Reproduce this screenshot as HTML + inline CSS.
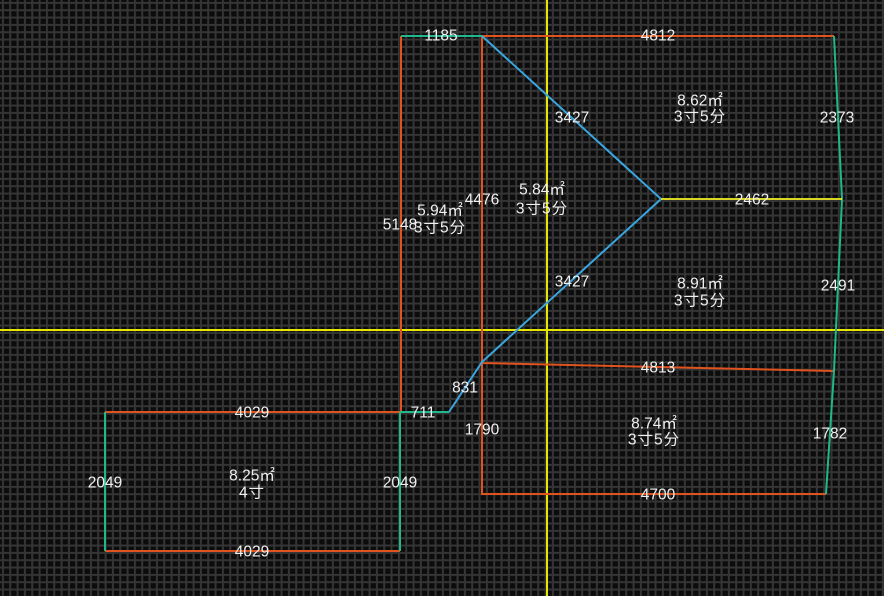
<!DOCTYPE html>
<html><head><style>body{margin:0;background:#0c0c0c}svg{display:block}text{font-family:"Liberation Sans","Noto Sans CJK SC",sans-serif;font-size:15.5px;fill:#f0f0f0;text-anchor:middle;dominant-baseline:central}.c{letter-spacing:1px}</style></head>
<body>
<svg width="884" height="596" xmlns="http://www.w3.org/2000/svg">
<defs><pattern id="g" x="1.9" y="1.9" width="7.333" height="7.333" patternUnits="userSpaceOnUse"><rect width="7.333" height="7.333" fill="#0c0c0c"/><rect x="0" y="0" width="2" height="7.333" fill="#353535"/><rect x="0" y="0" width="7.333" height="2" fill="#353535"/></pattern></defs>
<rect width="884" height="596" fill="url(#g)"/>
<line x1="547" y1="0" x2="547" y2="596" stroke="#e6e600" stroke-width="2"/>
<line x1="0" y1="330" x2="884" y2="330" stroke="#e6e600" stroke-width="2"/>
<g fill="none" stroke-width="2">
<path d="M105 412H400M105 551H400M401 36V412M482 36H834M482 36V494H826M482 363L834 371" stroke="#e0531f"/>
<path d="M105 412V551M400 412V551M401 36H482M834 36L842 199L834 371L826 494M400 412H449" stroke="#1fb88a"/>
<path d="M482 36L661 199L482 362L449 412" stroke="#3aa6e0"/>
<path d="M661 199H842" stroke="#d8d820"/>
</g>
<g>
<text x="441" y="36">1185</text><text x="658" y="36">4812</text>
<text x="572" y="118">3427</text><text x="700" y="101">8.62㎡</text><text class="c" x="700" y="117">3寸5分</text>
<text x="837" y="118">2373</text>
<text x="482" y="200">4476</text><text x="542" y="190">5.84㎡</text><text class="c" x="542" y="209">3寸5分</text>
<text x="752" y="200">2462</text>
<text x="400" y="225">5148</text><text x="440" y="211">5.94㎡</text><text class="c" x="440" y="228">3寸5分</text>
<text x="572" y="282">3427</text><text x="700" y="284">8.91㎡</text><text class="c" x="700" y="301">3寸5分</text>
<text x="838" y="286">2491</text>
<text x="658" y="368">4813</text><text x="465" y="388">831</text><text x="423" y="413">711</text>
<text x="482" y="430">1790</text><text x="654" y="424">8.74㎡</text><text class="c" x="654" y="440">3寸5分</text>
<text x="830" y="434">1782</text>
<text x="252" y="413">4029</text><text x="105" y="483">2049</text><text x="252" y="476">8.25㎡</text><text class="c" x="252" y="493">4寸</text>
<text x="400" y="483">2049</text><text x="658" y="495">4700</text><text x="252" y="552">4029</text>
</g>
</svg>
</body></html>
